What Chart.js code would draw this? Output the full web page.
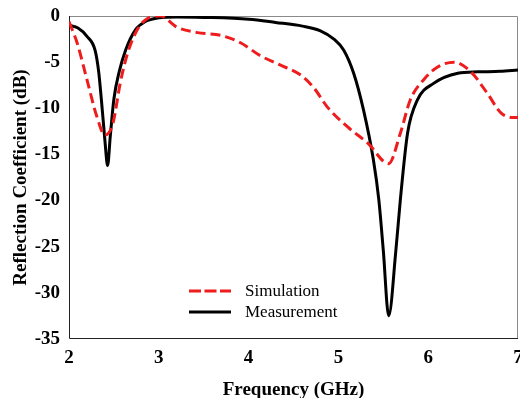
<!DOCTYPE html>
<html>
<head>
<meta charset="utf-8">
<script src="https://cdn.jsdelivr.net/npm/chart.js@4/dist/chart.umd.min.js"></script>
<style>
html,body{margin:0;padding:0;background:#fff;}
#wrap{width:520px;height:398px;position:relative;}
</style>
</head>
<body>
<div id="wrap"><canvas id="c" width="520" height="398"></canvas></div>
<script>
const seriesLabels = ["Simulation", "Measurement"];
const xTitle = "Frequency (GHz)";
const yTitle = "Reflection Coefficient (dB)";

const simFreq = [2.0, 2.09, 2.2, 2.31, 2.4, 2.49, 2.57, 2.65, 2.76, 2.87, 3.02, 3.2, 3.43, 3.69, 3.91, 4.13, 4.35, 4.58, 4.72, 4.88, 5.1, 5.33, 5.56, 5.69, 5.8, 5.95, 6.11, 6.29, 6.48, 6.66, 6.81, 6.95, 7.0];
const simDb   = [-0.6, -2.9, -6.9, -10.9, -12.9, -11.6, -7.3, -4.1, -1.5, -0.3, 0.0, -1.2, -1.8, -2.1, -2.9, -4.3, -5.3, -6.4, -7.7, -9.9, -12.0, -13.8, -16.0, -12.7, -9.1, -6.9, -5.5, -5.0, -6.1, -8.4, -10.5, -11.0, -11.0];

const measFreq = [2.0, 2.1, 2.2, 2.29, 2.33, 2.36, 2.4, 2.43, 2.46, 2.5, 2.56, 2.63, 2.74, 2.85, 3.0, 3.2, 3.5, 4.0, 4.3, 4.6, 4.8, 4.95, 5.06, 5.17, 5.28, 5.39, 5.45, 5.5, 5.56, 5.64, 5.69, 5.77, 5.88, 6.06, 6.33, 6.55, 6.8, 7.0];
const measDb   = [-1.0, -1.3, -2.2, -3.7, -6.0, -9.0, -13.5, -16.2, -13.0, -9.0, -6.0, -3.7, -1.5, -0.6, -0.2, -0.1, -0.15, -0.35, -0.7, -1.1, -1.6, -2.5, -3.7, -6.2, -10.2, -15.6, -19.9, -25.4, -32.5, -25.4, -19.9, -12.7, -9.1, -7.3, -6.2, -6.05, -6.0, -5.85];

const xTicks = [2, 3, 4, 5, 6, 7];
const yTicks = [0, -5, -10, -15, -20, -25, -30, -35];

const toPts = (xs, ys) => xs.map((x, i) => ({x: x, y: ys[i]}));
const SERIF = '"Liberation Serif", "Times New Roman", serif';

const frame = {
  id: 'frame',
  beforeDatasetsDraw(chart) {
    const {ctx, chartArea: a} = chart;
    ctx.save();
    ctx.lineWidth = 1;
    ctx.strokeStyle = '#8a8a8a';
    ctx.beginPath();
    ctx.moveTo(a.left, a.top + 0.5); ctx.lineTo(a.right - 0.5, a.top + 0.5); ctx.lineTo(a.right - 0.5, a.bottom);
    ctx.stroke();
    ctx.strokeStyle = '#222';
    ctx.beginPath();
    ctx.moveTo(a.left + 0.5, a.top); ctx.lineTo(a.left + 0.5, a.bottom - 0.5); ctx.lineTo(a.right, a.bottom - 0.5);
    ctx.stroke();
    ctx.restore();
  },
  afterDatasetsDraw(chart) {
    const {ctx} = chart;
    const ds = chart.data.datasets;
    const rows = [291, 312];
    ctx.save();
    ctx.font = '17px ' + SERIF;
    ctx.textBaseline = 'middle';
    ds.forEach((d, i) => {
      ctx.strokeStyle = d.borderColor;
      ctx.lineWidth = 3;
      ctx.setLineDash(i === 0 ? [12, 3.5] : []);
      ctx.beginPath();
      ctx.moveTo(189, rows[i]); ctx.lineTo(231, rows[i]);
      ctx.stroke();
      ctx.setLineDash([]);
      ctx.fillStyle = '#000';
      ctx.fillText(d.label, 245, rows[i] + 1);
    });
    ctx.restore();
  }
};

new Chart(document.getElementById('c'), {
  type: 'line',
  data: {
    datasets: [
      {label: seriesLabels[0], data: toPts(simFreq, simDb), borderColor: '#ee1c1c', borderWidth: 3, borderDash: [10, 5], pointRadius: 0, cubicInterpolationMode: 'monotone', fill: false},
      {label: seriesLabels[1], data: toPts(measFreq, measDb), borderColor: '#000000', borderWidth: 3, pointRadius: 0, cubicInterpolationMode: 'monotone', fill: false}
    ]
  },
  options: {
    responsive: false,
    animation: false,
    layout: {padding: {top: 16, right: 2, left: 0, bottom: 0}},
    plugins: {legend: {display: false}, tooltip: {enabled: false}},
    scales: {
      x: {
        type: 'linear', min: 2, max: 7,
        afterBuildTicks: s => { s.ticks = xTicks.map(v => ({value: v})); },
        grid: {display: false, drawTicks: false},
        border: {display: false},
        ticks: {color: '#000', padding: 8, font: {family: SERIF, size: 19, weight: 'bold'}},
        title: {display: true, text: xTitle, color: '#000', padding: {top: 0, bottom: 0}, font: {family: SERIF, size: 19, weight: 'bold', lineHeight: 0.8}},
        afterFit: s => { s.height = 59; s.paddingLeft = 0; s.paddingRight = 0; }
      },
      y: {
        type: 'linear', min: -35, max: 0,
        afterBuildTicks: s => { s.ticks = yTicks.map(v => ({value: v})); },
        grid: {display: false, drawTicks: false},
        border: {display: false},
        ticks: {color: '#000', padding: 9, font: {family: SERIF, size: 19, weight: 'bold'}},
        title: {display: true, text: yTitle, color: '#000', padding: {top: 10, bottom: 0}, font: {family: SERIF, size: 19, weight: 'bold'}},
        afterFit: s => { s.width = 69; s.paddingTop = 0; s.paddingBottom = 0; }
      }
    }
  },
  plugins: [frame]
});
</script>
</body>
</html>
